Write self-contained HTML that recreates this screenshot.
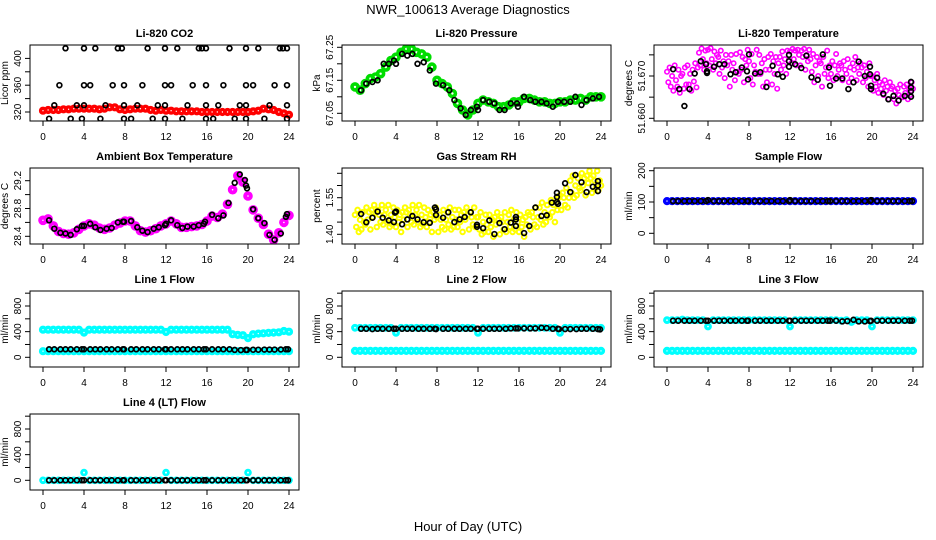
<!DOCTYPE html>
<html><head><meta charset="utf-8"><title>NWR_100613 Average Diagnostics</title>
<style>
html,body{margin:0;padding:0;background:#fff;}
svg{display:block;font-family:"Liberation Sans",Arial,sans-serif;}
</style></head>
<body>
<svg id="chart" width="936" height="540" viewBox="0 0 936 540" xmlns="http://www.w3.org/2000/svg">
<rect x="0" y="0" width="936" height="540" fill="#fff"/>
<text x="468" y="14" text-anchor="middle" font-size="13">NWR_100613  Average Diagnostics</text>
<text x="468" y="531" text-anchor="middle" font-size="13">Hour of Day (UTC)</text>
</svg>
<script>
// ---------- data ----------
const halfHours = [0,0.5,1,1.5,2,2.5,3,3.5,4,4.5,5,5.5,6,6.5,7,7.5,8,8.5,9,9.5,10,10.5,11,11.5,12,12.5,13,13.5,14,14.5,15,15.5,16,16.5,17,17.5,18,18.5,19,19.5,20,20.5,21,21.5,22,22.5,23,23.5,24];
const xTickValues = [0,4,8,12,16,20,24];

const co2Red = [322,323,323,323,324,324,325,325,325,325,325,324,325,327,327,324,323,324,325,325,325,323,322,323,322,322,321,321,321,321,321,320,320,320,320,320,320,320,320,320,320,321,322,325,324,323,320,318,316];
const co2BlackX = [2.2,4,5.1,7.3,7.7,10.2,11.9,13.1,15.2,15.5,15.9,18.2,19.8,21,23.1,23.4,23.8,
  1.6,4,4.6,6.8,7.9,9.7,11.9,12.5,14.6,15.9,17.6,19.8,20.5,22.6,23.8,
  1.1,3.3,4,6.1,7.9,9.2,11.2,11.9,14.1,15.9,17.1,19.2,19.8,22.1,23.8,
  0.6,2.7,3.8,5.6,7.9,8.6,10.7,11.9,13.6,15.9,16.6,18.7,19.8,21.6,23.8];
const co2BlackY = [415,415,415,415,415,415,415,415,415,415,415,415,415,415,415,415,415,
  360,360,360,360,360,360,360,360,360,360,360,360,360,360,360,
  330,330,330,330,330,330,330,330,330,330,330,330,330,330,330,
  310,310,310,310,310,310,310,310,310,310,310,310,310,310,310];

const pressGreen = [67.13,67.12,67.14,67.155,67.16,67.17,67.19,67.21,67.22,67.235,67.245,67.245,67.235,67.23,67.22,67.19,67.15,67.14,67.13,67.11,67.08,67.06,67.045,67.06,67.08,67.09,67.085,67.08,67.07,67.07,67.075,67.085,67.085,67.095,67.095,67.09,67.085,67.085,67.08,67.08,67.085,67.085,67.09,67.09,67.095,67.09,67.10,67.10,67.10];
const pressBlackX = [0.6,1.1,1.7,2.2,2.8,3.3,3.8,4,4.6,5.1,5.6,6.1,6.7,7.3,7.9,8.6,9.2,9.7,10.3,10.8,11.3,11.9,12,12.5,13.1,13.6,14.1,14.6,15.2,15.8,15.9,16.5,17.1,17.6,18.2,18.7,19.3,19.8,20.4,21,21.5,22.1,22.6,23.2,23.8];
const pressBlackY = [67.12,67.14,67.145,67.15,67.2,67.2,67.21,67.2,67.23,67.225,67.23,67.2,67.205,67.18,67.14,67.135,67.12,67.09,67.065,67.045,67.06,67.07,67.06,67.09,67.085,67.08,67.06,67.06,67.08,67.08,67.07,67.1,67.09,67.085,67.085,67.08,67.07,67.085,67.085,67.085,67.1,67.075,67.09,67.095,67.1];

const eighthHours = [];
for (let i = 0; i <= 192; i++) eighthHours.push(i / 8);
const tempMagenta = [
51.6710,51.6685,51.6720,51.6675,51.6700,51.6665,51.6725,51.6690,
51.6675,51.6715,51.6660,51.6700,51.6705,51.6670,51.6720,51.6680,
51.6725,51.6680,51.6705,51.6665,51.6715,51.6687,51.6730,51.6673,
51.6720,51.6755,51.6725,51.6765,51.6740,51.6715,51.6760,51.6730,
51.6762,51.6725,51.6766,51.6740,51.6715,51.6758,51.6730,51.6750,
51.6745,51.6705,51.6760,51.6720,51.6735,51.6695,51.6750,51.6725,
51.6735,51.6675,51.6750,51.6715,51.6730,51.6690,51.6752,51.6710,
51.6705,51.6756,51.6715,51.6745,51.6685,51.6740,51.6725,51.6762,
51.6735,51.6695,51.6752,51.6680,51.6725,51.6710,51.6762,51.6705,
51.6750,51.6705,51.6730,51.6675,51.6740,51.6715,51.6685,51.6745,
51.6715,51.6752,51.6680,51.6735,51.6705,51.6745,51.6670,51.6730,
51.6745,51.6715,51.6758,51.6725,51.6740,51.6705,51.6760,51.6735,
51.6758,51.6730,51.6764,51.6740,51.6760,51.6725,51.6762,51.6750,
51.6725,51.6760,51.6745,51.6764,51.6715,51.6750,51.6735,51.6762,
51.6740,51.6710,51.6752,51.6685,51.6725,51.6745,51.6700,51.6735,
51.6730,51.6675,51.6745,51.6705,51.6720,51.6760,51.6695,51.6725,
51.6705,51.6735,51.6690,51.6725,51.6752,51.6700,51.6715,51.6730,
51.6725,51.6690,51.6735,51.6715,51.6705,51.6740,51.6685,51.6720,
51.6695,51.6730,51.6715,51.6745,51.6690,51.6720,51.6705,51.6730,
51.6720,51.6685,51.6725,51.6695,51.6710,51.6675,51.6730,51.6700,
51.6700,51.6665,51.6690,51.6675,51.6705,51.6660,51.6685,51.6670,
51.6680,51.6655,51.6690,51.6665,51.6675,51.6645,51.6685,51.6670,
51.6675,51.6645,51.6665,51.6635,51.6670,51.6655,51.6680,51.6650,
51.6650,51.6675,51.6660,51.6680,51.6645,51.6670,51.6655,51.6685,
51.6670];
const tempBlackX = [0.6,1.2,1.7,2.2,2.7,3.3,3.8,3.9,3.9,4.6,5.1,5.6,6.2,6.7,7.3,7.8,7.9,8.0,8.6,9.1,9.7,10.3,10.8,11.3,11.9,11.9,11.9,12.5,13.1,13.6,14.1,14.7,15.2,15.8,15.9,16.5,17.1,17.7,18.2,18.7,19.3,19.8,19.8,19.9,19.9,20.5,21.1,21.6,22.1,22.6,23.2,23.8,23.8,23.8,23.8];
const tempBlackY = [51.6716,51.6669,51.6629,51.6669,51.6706,51.6735,51.6728,51.6711,51.6707,51.6722,51.6728,51.6728,51.6704,51.6709,51.6720,51.6711,51.6692,51.6751,51.6706,51.6709,51.6674,51.6724,51.6704,51.6698,51.6750,51.6735,51.6722,51.6728,51.6719,51.6748,51.6697,51.6691,51.6751,51.6720,51.6677,51.6694,51.6694,51.6669,51.6685,51.6734,51.6700,51.6722,51.6704,51.6677,51.6669,51.6696,51.6658,51.6645,51.6653,51.6642,51.6653,51.6686,51.6673,51.6664,51.6651];

const ambientMagenta = [28.63,28.65,28.55,28.47,28.44,28.43,28.45,28.50,28.55,28.58,28.56,28.52,28.50,28.52,28.56,28.59,28.62,28.62,28.55,28.48,28.46,28.48,28.51,28.55,28.58,28.62,28.58,28.53,28.53,28.54,28.55,28.57,28.62,28.69,28.67,28.72,28.86,29.07,29.27,29.18,28.98,28.78,28.66,28.57,28.43,28.35,28.45,28.60,28.70];
const ambientBlackX = [0.6,1.1,1.7,2.2,2.7,3.3,3.8,4.0,4.6,5.1,5.6,6.2,6.7,7.3,7.8,7.9,8.6,9.2,9.7,10.2,10.8,11.3,11.9,12.0,12.5,13.1,13.6,14.1,14.7,15.2,15.7,15.8,16.5,17.1,17.6,18.1,18.7,19.2,19.7,19.8,19.9,20.5,21.0,21.6,22.1,22.6,23.2,23.7,23.8];
const ambientBlackY = [28.63,28.51,28.45,28.44,28.42,28.50,28.55,28.55,28.58,28.53,28.49,28.51,28.52,28.60,28.61,28.61,28.62,28.53,28.48,28.46,28.51,28.53,28.56,28.58,28.63,28.56,28.52,28.54,28.54,28.56,28.58,28.61,28.71,28.66,28.70,28.88,29.17,29.29,29.21,29.13,29.09,28.79,28.66,28.59,28.42,28.35,28.44,28.68,28.72];

const rhYellow = [
1.48,1.43,1.50,1.41,1.46,1.42,1.49,1.45,
1.44,1.51,1.46,1.49,1.42,1.50,1.47,1.52,
1.49,1.43,1.50,1.48,1.45,1.52,1.44,1.48,
1.50,1.45,1.52,1.43,1.48,1.44,1.51,1.47,
1.43,1.50,1.45,1.48,1.41,1.49,1.46,1.51,
1.49,1.43,1.50,1.48,1.45,1.52,1.44,1.48,
1.50,1.45,1.52,1.43,1.48,1.44,1.51,1.47,
1.43,1.50,1.45,1.48,1.41,1.49,1.46,1.51,
1.47,1.41,1.48,1.46,1.43,1.50,1.42,1.46,
1.49,1.44,1.51,1.42,1.47,1.43,1.50,1.46,
1.43,1.50,1.45,1.48,1.41,1.49,1.46,1.51,
1.48,1.42,1.49,1.47,1.44,1.51,1.43,1.47,
1.47,1.42,1.49,1.40,1.45,1.41,1.48,1.44,
1.41,1.48,1.43,1.46,1.39,1.47,1.44,1.49,
1.46,1.40,1.47,1.45,1.42,1.49,1.41,1.45,
1.48,1.43,1.50,1.41,1.46,1.42,1.49,1.45,
1.41,1.48,1.43,1.46,1.39,1.47,1.44,1.49,
1.48,1.42,1.49,1.47,1.44,1.51,1.43,1.47,
1.51,1.46,1.53,1.44,1.49,1.45,1.52,1.48,
1.47,1.54,1.49,1.52,1.45,1.53,1.50,1.55,
1.56,1.50,1.57,1.55,1.52,1.59,1.51,1.55,
1.62,1.57,1.64,1.55,1.60,1.56,1.63,1.59,
1.58,1.65,1.60,1.63,1.56,1.64,1.61,1.66,
1.63,1.57,1.64,1.62,1.59,1.66,1.58,1.62,
1.60];
const rhBlackX = [0.6,1.1,1.7,2.2,2.7,3.3,3.8,3.9,4.0,4.6,5.1,5.6,6.1,6.7,7.3,7.8,7.9,7.9,8.6,9.1,9.7,10.2,10.7,11.3,11.9,11.9,12.5,13.1,13.6,14.1,14.6,15.2,15.7,15.7,15.7,16.5,17.0,17.6,18.2,18.7,19.2,19.7,19.7,19.7,19.8,20.5,21.0,21.5,22.1,22.6,23.2,23.7,23.7,23.7];
const rhBlackY = [1.483,1.449,1.468,1.493,1.468,1.457,1.450,1.489,1.493,1.441,1.461,1.475,1.461,1.449,1.447,1.510,1.502,1.479,1.468,1.490,1.450,1.461,1.471,1.490,1.439,1.431,1.425,1.457,1.401,1.446,1.421,1.448,1.471,1.461,1.434,1.405,1.434,1.510,1.475,1.478,1.530,1.570,1.553,1.532,1.525,1.609,1.573,1.643,1.613,1.573,1.595,1.618,1.600,1.577];

const sampleBlue = [103,103,103,103,103,103,103,103,103,103,103,103,103,103,103,103,103,103,103,103,103,103,103,103,103,103,103,103,103,103,103,103,103,103,103,103,103,103,103,103,103,103,103,103,103,103,103,103,103];
const line1High = [430,430,430,430,430,430,430,430,385,430,430,430,430,430,430,430,430,430,430,430,430,430,430,430,395,430,430,430,430,430,430,430,430,430,430,430,430,360,350,345,300,360,370,375,380,385,390,410,400];
const line1Low = [95,95,95,95,95,95,95,95,95,95,95,95,95,95,95,95,95,95,95,95,95,95,95,95,95,95,95,95,95,95,95,95,95,95,95,95,95,95,95,95,95,95,95,95,95,95,95,95,95];
const line2High = [460,460,460,460,460,460,460,460,380,460,460,460,460,460,460,460,460,460,460,460,460,460,460,460,380,460,460,460,460,460,460,460,460,460,460,460,460,460,460,460,380,460,460,460,460,460,460,460,460];
const line2Low = [100,100,100,100,100,100,100,100,100,100,100,100,100,100,100,100,100,100,100,100,100,100,100,100,100,100,100,100,100,100,100,100,100,100,100,100,100,100,100,100,100,100,100,100,100,100,100,100,100];
const line3High = [580,580,580,590,580,580,580,580,480,580,580,580,580,580,580,580,580,580,580,580,580,580,580,580,480,580,580,580,580,580,580,580,580,580,570,580,550,580,580,580,480,580,580,580,580,580,580,580,580];
const line3Low = [100,100,100,100,100,100,100,100,100,100,100,100,100,100,100,100,100,100,100,100,100,100,100,100,100,100,100,100,100,100,100,100,100,100,100,100,100,100,100,100,100,100,100,100,100,100,100,100,100];
const line4Cyan = [0,0,0,0,0,0,0,0,120,0,0,0,0,0,0,0,0,0,0,0,0,0,0,0,120,0,0,0,0,0,0,0,0,0,0,0,0,0,0,0,120,0,0,0,0,0,0,0,0];

const flowBlackX = [0.6,1.1,1.7,2.2,2.7,3.3,3.8,4.0,4.6,5.1,5.6,6.2,6.7,7.3,7.8,7.9,8.6,9.1,9.7,10.2,10.8,11.3,11.9,12.0,12.5,13.1,13.6,14.1,14.7,15.2,15.7,15.9,16.5,17.1,17.6,18.2,18.7,19.3,19.8,19.9,20.5,21.0,21.6,22.1,22.6,23.2,23.7,23.9];
const sampleBlack = [103,103,103,103,103,103,103,106,103,103,103,103,103,103,103,103,103,103,103,103,103,103,103,106,103,103,103,103,103,103,103,103,103,103,103,103,103,103,103,106,103,103,103,103,103,103,103,103];
const line1Black = [125,125,125,125,125,125,125,125,125,125,125,125,125,125,125,125,125,125,125,125,125,125,125,125,125,125,125,125,125,125,125,125,125,125,125,125,115,112,115,115,118,118,120,120,120,122,125,125];
const line2Black = [445,445,440,445,445,445,445,445,445,445,445,445,445,445,445,440,445,445,445,445,445,445,445,445,445,445,445,445,445,450,450,450,450,450,450,460,455,445,445,440,440,440,440,445,445,445,440,435];
const line3Black = [570,570,570,570,570,570,570,570,570,570,570,570,570,570,570,570,570,570,570,570,570,570,570,570,570,570,570,570,570,570,570,570,570,560,565,585,560,560,565,570,570,570,570,570,570,570,570,570];
const line4Black = [0,0,0,0,0,0,0,0,0,0,0,0,0,0,0,0,0,0,0,0,0,0,0,0,0,0,0,0,0,0,0,0,0,0,0,0,0,0,0,0,0,0,0,0,0,0,0,0];

// ---------- layout ----------
const NS = "http://www.w3.org/2000/svg";
const svg = document.getElementById("chart");
const colX0 = [43, 355, 667];
const hourPx = 10.25;
const rowTop = [45, 168, 291, 414];
const boxH = 76;

function el(tag, attrs, parent) {
  const e = document.createElementNS(NS, tag);
  for (const k in attrs) e.setAttribute(k, attrs[k]);
  (parent || svg).appendChild(e);
  return e;
}

let clipCount = 0;
function panel(o) {
  const top = rowTop[o.row];
  const bottom = top + boxH;
  const x0 = colX0[o.col];
  const left = x0 - 13, right = x0 + 24 * hourPx + 10;
  const xs = h => x0 + h * hourPx;
  const k = (o.a2[1] - o.a1[1]) / (o.a2[0] - o.a1[0]);
  const ys = v => top + o.a1[1] + (v - o.a1[0]) * k;
  const g = el("g", {});
  
  

  const title = el("text", {x: (left + right) / 2, y: top - 8, "text-anchor": "middle", "font-size": "11", "font-weight": "bold"}, g);
  title.textContent = o.title;
  
  

  const cid = "clip" + (clipCount++);
  const cp = el("clipPath", {id: cid}, g);
  el("rect", {x: left, y: top, width: right - left, height: boxH}, cp);
  const marks = el("g", {"clip-path": "url(#" + cid + ")"}, g);
  
  

  o.series.forEach(s => {
    const sg = el("g", {fill: "none", stroke: s.color, "stroke-width": s.sw || 1.6}, marks);
    
    
    const n = Math.min(s.x.length, s.y.length);
    for (let i = 0; i < n; i++) {
      const c = el("circle", {cx: xs(s.x[i]).toFixed(1), cy: ys(s.y[i]).toFixed(1), r: s.r || 2.4}, sg);
      
      
    }
  });

  const box = el("rect", {x: left, y: top, width: right - left, height: boxH, fill: "none", stroke: "#000", "stroke-width": 1}, g);
  
  

  const xa = el("g", {}, g);
  
  
  xTickValues.forEach(t => {
    el("line", {x1: xs(t), x2: xs(t), y1: bottom, y2: bottom + 5, stroke: "#000"}, xa);
    const tl = el("text", {x: xs(t), y: bottom + 19, "text-anchor": "middle", "font-size": "10"}, xa);
    tl.textContent = String(t);
    
    
  });

  const ya = el("g", {}, g);
  
  
  o.ticks.forEach(t => {
    el("line", {x1: left - 5, x2: left, y1: ys(t), y2: ys(t), stroke: "#000"}, ya);
  });
  o.labels.forEach((t, i) => {
    const yy = ys(t);
    const tl = el("text", {x: left - 9, y: yy, "text-anchor": "middle", "font-size": "10", transform: "rotate(-90 " + (left - 9) + " " + yy + ")"}, ya);
    tl.textContent = o.labelText[i];
    
    
  });
  const yt = el("text", {x: left - 22, y: top + boxH / 2, "text-anchor": "middle", "font-size": "10", transform: "rotate(-90 " + (left - 22) + " " + (top + boxH / 2) + ")"}, ya);
  yt.textContent = o.ylab;
  
  
}

const flowTicks = [0,200,400,600,800,1000];
const flowLabels = [0,400,800];
const flowLabelText = ["0","400","800"];

panel({name:"co2", title:"Li-820 CO2", ylab:"Licor ppm", row:0, col:0, a1:[320,67], a2:[400,13.4],
  ticks:[320,340,360,380,400], labels:[320,360,400], labelText:["320","360","400"],
  series:[{name:"co2-series", color:"#ff0000", x:halfHours, y:co2Red, r:2.4, sw:3.4},
          {name:"co2-black-points", color:"#000", x:co2BlackX, y:co2BlackY, sw:1.7}]});
panel({name:"pressure", title:"Li-820 Pressure", ylab:"kPa", row:0, col:1, a1:[67.05,68.3], a2:[67.25,2.3],
  ticks:[67.05,67.10,67.15,67.20,67.25], labels:[67.05,67.15,67.25], labelText:["67.05","67.15","67.25"],
  series:[{name:"pressure-series", color:"#00dd00", x:halfHours, y:pressGreen, r:3, sw:3.6},
          {name:"pressure-black-points", color:"#000", x:pressBlackX, y:pressBlackY, sw:1.7}]});
panel({name:"li820-temperature", title:"Li-820 Temperature", ylab:"degrees C", row:0, col:2, a1:[51.660,73.3], a2:[51.670,31],
  ticks:[51.660,51.665,51.670,51.675], labels:[51.660,51.670], labelText:["51.660","51.670"],
  series:[{name:"li820-temperature-series", color:"#ff00ff", x:eighthHours, y:tempMagenta, r:2.2, sw:1.6},
          {name:"li820-temperature-black-points", color:"#000", x:tempBlackX, y:tempBlackY, sw:1.7}]});
panel({name:"ambient-box-temperature", title:"Ambient Box Temperature", ylab:"degrees C", row:1, col:0, a1:[28.4,68.3], a2:[29.2,12.7],
  ticks:[28.4,28.6,28.8,29.0,29.2], labels:[28.4,28.8,29.2], labelText:["28.4","28.8","29.2"],
  series:[{name:"ambient-temperature-series", color:"#ff00ff", x:halfHours, y:ambientMagenta, r:2.8, sw:4},
          {name:"ambient-temperature-black-points", color:"#000", x:ambientBlackX, y:ambientBlackY, sw:1.7}]});
panel({name:"gas-stream-rh", title:"Gas Stream RH", ylab:"percent", row:1, col:1, a1:[1.40,66.3], a2:[1.55,29.7],
  ticks:[1.40,1.45,1.50,1.55,1.60,1.65], labels:[1.40,1.55], labelText:["1.40","1.55"],
  series:[{name:"rh-series", color:"#ffff00", x:eighthHours, y:rhYellow, r:2.3, sw:2},
          {name:"rh-black-points", color:"#000", x:rhBlackX, y:rhBlackY, sw:1.7}]});
panel({name:"sample-flow", title:"Sample Flow", ylab:"ml/min", row:1, col:2, a1:[0,65.3], a2:[200,2.7],
  ticks:[0,50,100,150,200], labels:[0,100,200], labelText:["0","100","200"],
  series:[{name:"sample-flow-series", color:"#0000ff", x:halfHours, y:sampleBlue, r:2.4, sw:3.4},
          {name:"sample-flow-black-points", color:"#000", x:flowBlackX, y:sampleBlack, sw:1.7}]});
panel({name:"line1-flow", title:"Line 1 Flow", ylab:"ml/min", row:2, col:0, a1:[0,66.3], a2:[800,15],
  ticks:flowTicks, labels:flowLabels, labelText:flowLabelText,
  series:[{name:"line1-high-series", color:"#00ffff", x:halfHours, y:line1High, r:2.4, sw:3.4},
          {name:"line1-low-series", color:"#00ffff", x:halfHours, y:line1Low, r:2.4, sw:3.4},
          {name:"line1-black-points", color:"#000", x:flowBlackX, y:line1Black, sw:1.7}]});
panel({name:"line2-flow", title:"Line 2 Flow", ylab:"ml/min", row:2, col:1, a1:[0,66.3], a2:[800,15],
  ticks:flowTicks, labels:flowLabels, labelText:flowLabelText,
  series:[{name:"line2-high-series", color:"#00ffff", x:halfHours, y:line2High, r:2.4, sw:3},
          {name:"line2-low-series", color:"#00ffff", x:halfHours, y:line2Low, r:2.4, sw:3.4},
          {name:"line2-black-points", color:"#000", x:flowBlackX, y:line2Black, sw:1.7}]});
panel({name:"line3-flow", title:"Line 3 Flow", ylab:"ml/min", row:2, col:2, a1:[0,66.3], a2:[800,15],
  ticks:flowTicks, labels:flowLabels, labelText:flowLabelText,
  series:[{name:"line3-high-series", color:"#00ffff", x:halfHours, y:line3High, r:2.4, sw:3},
          {name:"line3-low-series", color:"#00ffff", x:halfHours, y:line3Low, r:2.4, sw:3.4},
          {name:"line3-black-points", color:"#000", x:flowBlackX, y:line3Black, sw:1.7}]});
panel({name:"line4-flow", title:"Line 4 (LT) Flow", ylab:"ml/min", row:3, col:0, a1:[0,66.3], a2:[800,15],
  ticks:flowTicks, labels:flowLabels, labelText:flowLabelText,
  series:[{name:"line4-series", color:"#00ffff", x:halfHours, y:line4Cyan, r:2.4, sw:2.8},
          {name:"line4-black-points", color:"#000", x:flowBlackX, y:line4Black, sw:1.7}]});
</script>
</body></html>
